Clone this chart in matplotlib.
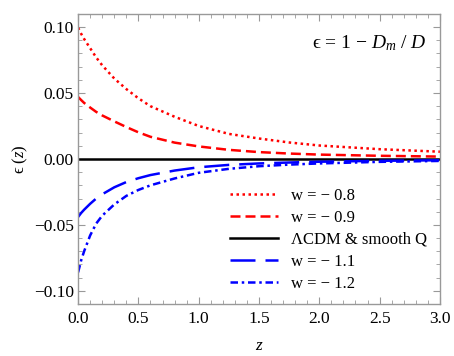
import matplotlib
matplotlib.use("Agg")
import matplotlib.pyplot as plt
from matplotlib.ticker import MultipleLocator, FuncFormatter

plt.rcParams['font.family'] = ['Liberation Serif', 'DejaVu Serif']
plt.rcParams['mathtext.fontset'] = 'custom'
plt.rcParams['mathtext.rm'] = 'Liberation Serif'
plt.rcParams['mathtext.it'] = 'Liberation Serif:italic'

# data
z = [0.0, 0.025, 0.05, 0.1, 0.15, 0.2, 0.3, 0.4, 0.5, 0.6, 0.8, 1.0, 1.25, 1.5, 1.75, 2.0, 2.5, 3.0]
eps_w08 = [0.0995, 0.095, 0.091, 0.084, 0.077, 0.071, 0.061, 0.053, 0.046, 0.040, 0.032, 0.025,
           0.019, 0.0155, 0.0125, 0.0102, 0.0074, 0.0055]
eps_w09 = [0.047, 0.0447, 0.0425, 0.039, 0.0357, 0.033, 0.0285, 0.0242, 0.0202, 0.0168, 0.0124,
           0.0095, 0.0069, 0.0052, 0.0041, 0.0033, 0.0024, 0.0018]
eps_lcdm = [0.0] * len(z)
eps_w11 = [-0.044, -0.041, -0.0385, -0.034, -0.030, -0.0268, -0.0215, -0.0175, -0.0146, -0.0122,
           -0.0088, -0.0063, -0.0045, -0.0034, -0.0027, -0.0021, -0.0014, -0.0010]
eps_w12 = [-0.086, -0.077, -0.070, -0.058, -0.049, -0.043, -0.0345, -0.028, -0.0235, -0.020,
           -0.0148, -0.0105, -0.0075, -0.0055, -0.0043, -0.0034, -0.0022, -0.0015]
labels = ['w = − 0.8', 'w = − 0.9', 'ΛCDM & smooth Q', 'w = − 1.1', 'w = − 1.2']

fig = plt.figure(figsize=(4.54, 3.56), dpi=100)
ax = fig.add_axes([0.172, 0.146, 0.797, 0.815])

lw = 1.8
ax.plot(z, eps_w08, color='#ff0000', lw=lw, dashes=(1, 1.4), label=labels[0])
ax.plot(z, eps_w09, color='#ff0000', lw=lw, dashes=(4, 2), label=labels[1])
ax.plot(z, eps_lcdm, color='black', lw=lw, label=labels[2])
ax.plot(z, eps_w11, color='#0000ff', lw=lw, dashes=(10, 4), label=labels[3])
ax.plot(z, eps_w12, color='#0000ff', lw=lw, dashes=(3, 1.5, 1, 1.5), label=labels[4])

ax.set_xlim(0, 3.0)
ax.set_ylim(-0.11, 0.11)
ax.xaxis.set_major_locator(MultipleLocator(0.5))
ax.xaxis.set_minor_locator(MultipleLocator(0.1))
ax.yaxis.set_major_locator(MultipleLocator(0.05))
ax.yaxis.set_minor_locator(MultipleLocator(0.01))
ax.xaxis.set_major_formatter(FuncFormatter(lambda v, p: f'{v:.1f}'.replace('-', '−')))
ax.yaxis.set_major_formatter(FuncFormatter(
    lambda v, p: ('0.00' if abs(v) < 1e-9 else f'{v:.2f}'.replace('-', '−'))))

gray = '#999999'
for s in ax.spines.values():
    s.set_color(gray)
    s.set_linewidth(1.0)
ax.tick_params(which='both', direction='in', top=True, right=True, color=gray,
               labelsize=12.5, labelcolor='black')
ax.tick_params(axis='y', pad=3)
ax.tick_params(axis='x', pad=5)
ax.tick_params(which='major', length=5, width=0.8)
ax.tick_params(which='minor', length=3, width=0.6)

ax.set_xlabel('$z$', fontsize=12.5, labelpad=8)
ax.set_ylabel('ϵ ($z$)', fontsize=12, labelpad=3)

ax.text(0.964, 0.9, 'ϵ = 1 − $D_m$ / $D$', transform=ax.transAxes, ha='right', va='center',
        fontsize=14)

leg = ax.legend(loc='lower right', bbox_to_anchor=(1.0, 0.0), frameon=False, fontsize=12,
                handlelength=2.9, handletextpad=0.8, labelspacing=0.36, borderaxespad=0.35)

fig.savefig('out.png', dpi=100)
